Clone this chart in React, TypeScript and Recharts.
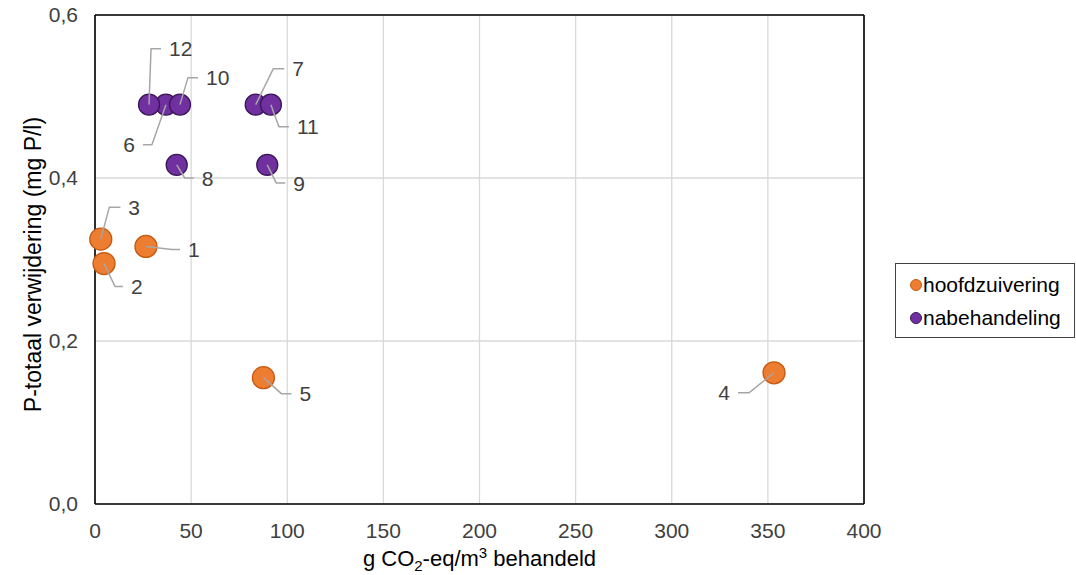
import React from 'react';
import { ScatterChart, Scatter, XAxis, YAxis, CartesianGrid, Legend, ReferenceLine } from 'recharts';

// ---- data ----
const hoofdLabels = ['1', '2', '3', '4', '5'];
const hoofdX = [26.5, 4.7, 3.0, 353.2, 87.6];
const hoofdY = [0.316, 0.295, 0.325, 0.161, 0.155];

const nabehLabels = ['6', '7', '8', '9', '10', '11', '12'];
const nabehX = [36.9, 83.6, 42.5, 89.6, 44.2, 91.5, 28.1];
const nabehY = [0.49, 0.49, 0.416, 0.416, 0.49, 0.49, 0.49];

const seriesNames = ['hoofdzuivering', 'nabehandeling'];
const xTicks = [0, 50, 100, 150, 200, 250, 300, 350, 400];
const yTicks = [0, 0.2, 0.4, 0.6];
const xMax = xTicks[xTicks.length - 1];
const yMax = yTicks[yTicks.length - 1];

// ---- styling ----
const FONT = '"Liberation Sans", Arial, sans-serif';
const TEXT = '#404040';
const ORANGE = '#ED7D31';
const ORANGE_EDGE = '#C55A11';
const PURPLE = '#7030A0';
const PURPLE_EDGE = '#3A1656';
const LEADER = '#A6A6A6';
const SMALL = 21;

// leader line placement per label: [elbow dx, elbow dy, horizontal length]
const leaderPlacement: Record<string, [number, number, number]> = {
  '1': [26, 3, 8],
  '2': [11, 23, 8],
  '3': [8.6, -32, 11],
  '4': [-25, 20, -11],
  '5': [18, 16, 10],
  '6': [-14, 40, -9],
  '7': [17.6, -36, 11],
  '8': [8, 13, 9],
  '9': [9, 18, 9],
  '10': [8, -27, 10],
  '11': [8, 22, 10],
  '12': [2, -56, 10],
};

const hoofdData = hoofdLabels.map((l, i) => ({ label: l, x: hoofdX[i], y: hoofdY[i] }));
const nabehData = nabehLabels.map((l, i) => ({ label: l, x: nabehX[i], y: nabehY[i] }));
const allData = [...hoofdData, ...nabehData];

const makeDot = (fill: string, stroke: string, r: number) => (p: any) => (
  <circle cx={p.cx} cy={p.cy} r={r} fill={fill} stroke={stroke} strokeWidth={1.3} />
);

const LeaderLabel = (p: any) => {
  const lab = p.payload?.label ?? '';
  const pl = leaderPlacement[lab] || [10, 0, 5];
  const ex = p.cx + pl[0];
  const ey = p.cy + pl[1];
  const endX = ex + pl[2];
  const right = pl[2] >= 0;
  const tx = endX + (right ? 8 : -8);
  return (
    <g>
      <polyline
        points={`${p.cx},${p.cy} ${ex},${ey} ${endX},${ey}`}
        fill="none"
        stroke={LEADER}
        strokeWidth={1.5}
      />
      <text
        x={tx}
        y={ey}
        dy="0.36em"
        textAnchor={right ? 'start' : 'end'}
        fill={TEXT}
        fontSize={SMALL}
        fontFamily={FONT}
      >
        {lab}
      </text>
    </g>
  );
};

const LegendBox = () => (
  <div
    style={{
      border: '1.5px solid #404040',
      background: '#fff',
      width: 180,
      height: 75,
      boxSizing: 'border-box',
      fontFamily: FONT,
      fontSize: SMALL,
      color: '#000',
      padding: '4px 0 0 14px',
    }}
  >
    {seriesNames.map((n, i) => (
      <div key={n} style={{ display: 'flex', alignItems: 'center', height: 33 }}>
        <span
          style={{
            display: 'inline-block',
            width: 12,
            height: 12,
            borderRadius: '50%',
            background: i === 0 ? ORANGE : PURPLE,
            border: `1px solid ${i === 0 ? ORANGE_EDGE : PURPLE_EDGE}`,
            marginRight: 1,
            boxSizing: 'border-box',
          }}
        />
        <span>{n}</span>
      </div>
    ))}
  </div>
);

const YTitle = (props: any) => {
  const vb = props.viewBox || { x: 0, y: 15, width: 95, height: 489 };
  const cx = vb.x + 33;
  const cy = vb.y + vb.height / 2 + 5;
  return (
    <text
      x={cx}
      y={cy}
      transform={`rotate(-90 ${cx} ${cy})`}
      textAnchor="middle"
      dominantBaseline="central"
      fill="#000"
      fontSize={23}
      fontFamily={FONT}
    >
      P-totaal verwijdering (mg P/l)
    </text>
  );
};

const XTitle = (props: any) => {
  const vb = props.viewBox || { x: 95, y: 504, width: 769, height: 71 };
  const cx = vb.x + vb.width / 2;
  const cy = vb.y + 62;
  return (
    <text x={cx} y={cy} textAnchor="middle" fill="#000" fontSize={22} fontFamily={FONT}>
      <tspan>g CO</tspan>
      <tspan fontSize={15} dy={5}>2</tspan>
      <tspan dy={-5}>-eq/m</tspan>
      <tspan fontSize={15} dy={-8}>3</tspan>
      <tspan dy={8}> behandeld</tspan>
    </text>
  );
};

export default function App() {
  return (
    <div style={{ position: 'absolute', left: 0, top: 0, width: 1076, height: 575, background: '#fff' }}>
      <ScatterChart width={1076} height={575} margin={{ top: 15, right: 32, bottom: 0, left: 0 }}>
        <CartesianGrid stroke="#D9D9D9" strokeWidth={1.3} />
        <XAxis
          type="number"
          dataKey="x"
          domain={[0, xMax]}
          ticks={xTicks}
          tickLine={false}
          axisLine={{ stroke: '#000', strokeWidth: 1.6 }}
          height={71}
          tickMargin={13}
          tick={{ fill: TEXT, fontSize: SMALL, fontFamily: FONT }}
          label={<XTitle />}
        />
        <YAxis
          type="number"
          dataKey="y"
          domain={[0, yMax]}
          ticks={yTicks}
          tickFormatter={(v: number) => v.toFixed(1).replace('.', ',')}
          tickLine={false}
          axisLine={{ stroke: '#000', strokeWidth: 1.6 }}
          width={95}
          tickMargin={11}
          tick={{ fill: TEXT, fontSize: SMALL, fontFamily: FONT }}
          label={<YTitle />}
        />
        <ReferenceLine x={xMax} stroke="#000" strokeWidth={1.6} />
        <ReferenceLine y={yMax} stroke="#000" strokeWidth={1.6} />
        <Legend
          layout="vertical"
          align="right"
          verticalAlign="middle"
          width={180}
          content={<LegendBox />}
          wrapperStyle={{ position: 'absolute', left: 895, top: 263, width: 180 }}
        />
        <Scatter
          name={seriesNames[0]}
          data={hoofdData}
          fill={ORANGE}
          shape={makeDot(ORANGE, ORANGE_EDGE, 11)}
          isAnimationActive={false}
        />
        <Scatter
          name={seriesNames[1]}
          data={nabehData}
          fill={PURPLE}
          shape={makeDot(PURPLE, PURPLE_EDGE, 10.5)}
          isAnimationActive={false}
        />
        <Scatter
          name="labels"
          data={allData}
          legendType="none"
          shape={LeaderLabel}
          isAnimationActive={false}
        />
      </ScatterChart>
    </div>
  );
}
